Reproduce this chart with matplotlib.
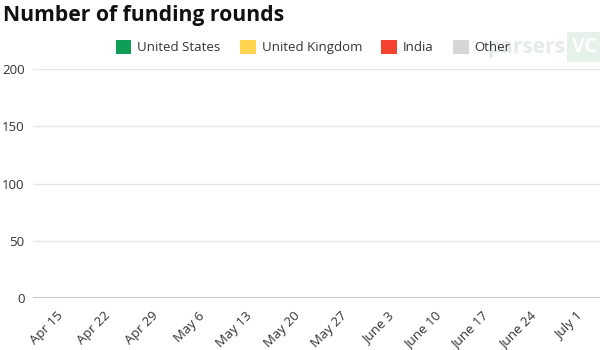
import numpy as np
import matplotlib
matplotlib.use("Agg")
import matplotlib.pyplot as plt
from matplotlib.patches import Patch

plt.rcParams['font.family'] = ['Open Sans', 'DejaVu Sans']

# Weekly buckets and rounds per country (no rounds recorded in this window)
weeks = ["Apr 15", "Apr 22", "Apr 29", "May 6", "May 13", "May 20",
         "May 27", "June 3", "June 10", "June 17", "June 24", "July 1"]
united_states = [0, 0, 0, 0, 0, 0, 0, 0, 0, 0, 0, 0]
united_kingdom = [0, 0, 0, 0, 0, 0, 0, 0, 0, 0, 0, 0]
india = [0, 0, 0, 0, 0, 0, 0, 0, 0, 0, 0, 0]
other = [0, 0, 0, 0, 0, 0, 0, 0, 0, 0, 0, 0]
y_ticks = [0, 50, 100, 150, 200]

series = [
    ("United States", united_states, "#0f9d58"),
    ("United Kingdom", united_kingdom, "#ffd54f"),
    ("India", india, "#f4432f"),
    ("Other", other, "#d6d6d6"),
]

fig = plt.figure(figsize=(6, 3.5), dpi=100)
ax = fig.add_axes([0.055, 0.148, 0.945, 0.655])

x = np.arange(len(weeks))
bottom = np.zeros(len(weeks))
for name, vals, color in series:
    vals = np.array(vals, dtype=float)
    ax.bar(x, vals, bottom=bottom, width=0.8, color=color, linewidth=0)
    bottom += vals

ax.set_xlim(-0.5, len(weeks) - 0.5)
ax.set_ylim(0, 200)
ax.set_yticks(y_ticks)
ax.set_xticks(x)
ax.set_xticklabels(weeks, rotation=45, ha="right", rotation_mode="anchor",
                   fontsize=9.5, color="#333333")
ax.tick_params(axis="y", labelsize=9.5, labelcolor="#333333", length=0, pad=6)
ax.tick_params(axis="x", length=0, pad=8)

ax.grid(axis="y", color="#e6e6e6", linewidth=1)
ax.set_axisbelow(True)
for side in ["top", "right", "left", "bottom"]:
    ax.spines[side].set_visible(False)
ax.axhline(0, color="#bbbbbb", linewidth=1.2, zorder=3)

fig.text(0.005, 0.955, "Number of funding rounds", fontsize=15.2,
         fontweight="bold", color="#111111", va="center", ha="left")

# faint brand mark in the corner, sits behind the legend
fig.text(0.878, 0.865, "parsers", fontsize=15, fontweight="bold",
         color="#e4ece7", ha="center", va="center", zorder=0)
fig.text(0.974, 0.865, "VC", fontsize=14, fontweight="bold", color="white",
         ha="center", va="center", zorder=0,
         bbox=dict(boxstyle="square,pad=0.25", fc="#e6f2e9", ec="none"))

handles = [Patch(facecolor=c, label=n) for n, _, c in series]
leg = fig.legend(handles=handles, loc="center", bbox_to_anchor=(0.522, 0.865),
                 ncol=4, frameon=False, fontsize=9.5, handlelength=1.2,
                 handleheight=1.2, handletextpad=0.45, columnspacing=1.45,
                 labelcolor="#333333")
leg.set_zorder(5)

fig.savefig("out.png", dpi=100, facecolor="white")
